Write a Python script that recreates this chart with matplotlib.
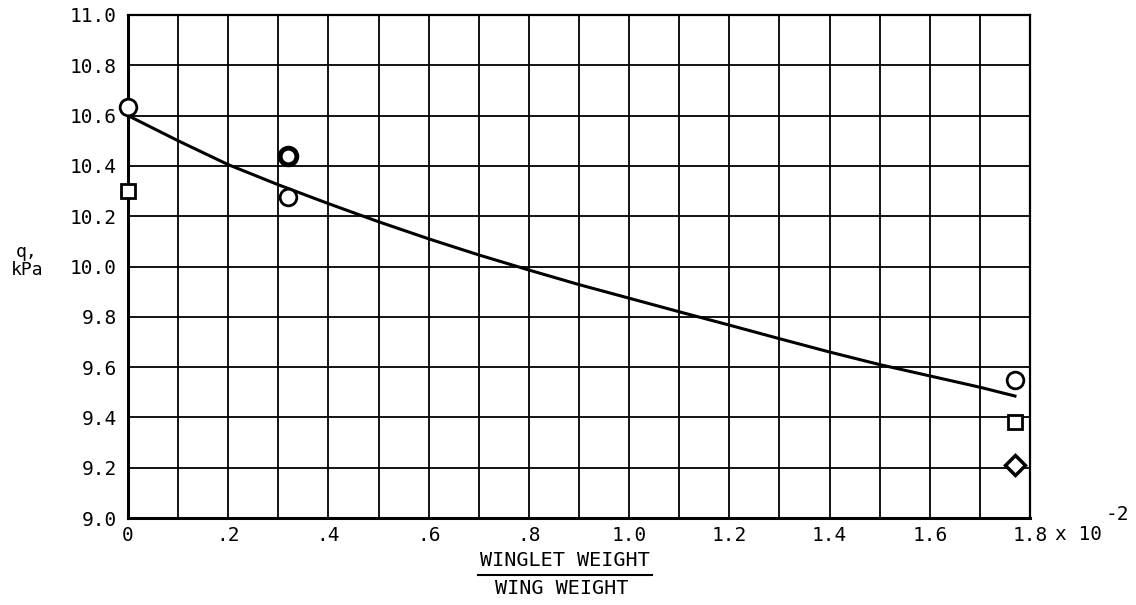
import matplotlib
matplotlib.use("Agg")
import matplotlib.pyplot as plt
import numpy as np

# Data
curve_x = [0.0, 0.1, 0.2, 0.3, 0.4, 0.5, 0.6, 0.7, 0.8, 0.9, 1.0, 1.1, 1.2, 1.3, 1.4, 1.5, 1.6, 1.7, 1.77]
curve_y = [10.60, 10.50, 10.405, 10.325, 10.25, 10.178, 10.11, 10.046, 9.986, 9.928, 9.874, 9.82, 9.767, 9.713, 9.66, 9.61, 9.565, 9.52, 9.485]

circle_x = [0.0, 0.32, 0.32, 1.77]
circle_y = [10.635, 10.44, 10.275, 9.55]
circle_lw = [2.0, 3.5, 2.0, 2.0]
square_x = [0.0, 1.77]
square_y = [10.30, 9.38]
diamond_x = [1.77]
diamond_y = [9.21]

xticks = [0, 0.2, 0.4, 0.6, 0.8, 1.0, 1.2, 1.4, 1.6, 1.8]
xticklabels = ["0", ".2", ".4", ".6", ".8", "1.0", "1.2", "1.4", "1.6", "1.8"]
yticks = [9.0, 9.2, 9.4, 9.6, 9.8, 10.0, 10.2, 10.4, 10.6, 10.8, 11.0]
yticklabels = ["9.0", "9.2", "9.4", "9.6", "9.8", "10.0", "10.2", "10.4", "10.6", "10.8", "11.0"]

font = "DejaVu Sans Mono"
fs = 14

fig = plt.figure(figsize=(11.36, 6.05), dpi=100)
ax = fig.add_axes([128/1136, 87/605, 902/1136, 503/605])
ax.set_xlim(0, 1.8)
ax.set_ylim(9.0, 11.0)

# grid
for gx in np.arange(0, 1.81, 0.1):
    ax.axvline(gx, color="black", lw=1.3, zorder=1)
for gy in yticks:
    ax.axhline(gy, color="black", lw=1.3, zorder=1)

for s in ax.spines.values():
    s.set_linewidth(1.6)
ax.spines["left"].set_linewidth(2.2)
ax.spines["bottom"].set_linewidth(2.2)

ax.plot(curve_x, curve_y, color="black", lw=2.2, zorder=3, clip_on=False,
        solid_joinstyle="round")

for x, y, lw in zip(circle_x, circle_y, circle_lw):
    ax.plot([x], [y], marker="o", ms=12, mfc="white", mec="black", mew=lw, zorder=4, clip_on=False, ls="none")
ax.plot(square_x, square_y, marker="s", ms=10, mfc="white", mec="black", mew=2.0, zorder=4, clip_on=False, ls="none")
ax.plot(diamond_x, diamond_y, marker="D", ms=10, mfc="white", mec="black", mew=2.5, zorder=4, clip_on=False, ls="none")

ax.set_xticks(xticks)
ax.set_xticklabels(xticklabels, fontfamily=font, fontsize=fs)
ax.set_yticks(yticks)
ax.set_yticklabels(yticklabels, fontfamily=font, fontsize=fs)
ax.tick_params(axis="x", length=0, pad=6)
ax.tick_params(axis="y", length=0, pad=8)

fig.text(1055/1136, 1 - 534/605, "x 10", fontfamily=font, fontsize=fs, ha="left", va="center")
fig.text(1106/1136, 1 - 515/605, "-2", fontfamily=font, fontsize=fs, ha="left", va="center")

fig.text(565/1136, 1 - 561/605, "WINGLET WEIGHT", fontfamily=font, fontsize=14.5, ha="center", va="center")
fig.add_artist(plt.Line2D([478/1136, 652/1136], [1 - 575/605, 1 - 575/605], color="black", lw=1.5))
fig.text(562/1136, 1 - 589/605, "WING WEIGHT", fontfamily=font, fontsize=14.5, ha="center", va="center")

fig.text(27/1136, 1 - 261/605, "q,\nkPa", fontfamily=font, fontsize=13, ha="center", va="center",
         multialignment="center", linespacing=0.95)

fig.savefig("out.png", dpi=100, facecolor="white")
